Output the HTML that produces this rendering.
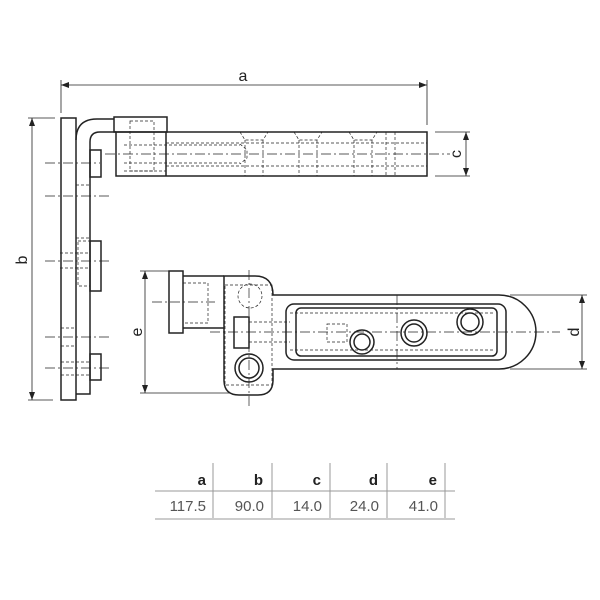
<!DOCTYPE html>
<html><head><style>body{margin:0;background:#fff}svg{display:block}</style></head><body>
<svg width="600" height="600" viewBox="0 0 600 600" xmlns="http://www.w3.org/2000/svg" font-family="Liberation Sans, sans-serif">
<defs><marker id="ar" markerWidth="8" markerHeight="6" refX="8" refY="3" orient="auto-start-reverse" markerUnits="userSpaceOnUse"><path d="M0,0 L8,3 L0,6z" fill="#222"/></marker></defs>
<g stroke="#222" fill="none">
<g stroke-width="0.8">
<line x1="61" y1="85" x2="427" y2="85" marker-start="url(#ar)" marker-end="url(#ar)"/>
<line x1="61" y1="80" x2="61" y2="113"/><line x1="427" y1="80" x2="427" y2="125"/>
<line x1="32" y1="118" x2="32" y2="400" marker-start="url(#ar)" marker-end="url(#ar)"/>
<line x1="28" y1="118" x2="55" y2="118"/><line x1="28" y1="400" x2="53" y2="400"/>
<line x1="466" y1="132" x2="466" y2="176" marker-start="url(#ar)" marker-end="url(#ar)"/>
<line x1="435" y1="132" x2="470" y2="132"/><line x1="435" y1="176" x2="470" y2="176"/>
<line x1="582" y1="295" x2="582" y2="369" marker-start="url(#ar)" marker-end="url(#ar)"/>
<line x1="510" y1="295" x2="587" y2="295"/><line x1="510" y1="369" x2="587" y2="369"/>
<line x1="145" y1="271" x2="145" y2="393" marker-start="url(#ar)" marker-end="url(#ar)"/>
<line x1="140" y1="271" x2="170" y2="271"/><line x1="140" y1="393" x2="230" y2="393"/>
</g>
<g stroke-width="0.7" stroke-dasharray="10,3,2,3">
<line x1="105" y1="154" x2="450" y2="154"/>
<line x1="45" y1="163" x2="100" y2="163"/>
<line x1="45" y1="196" x2="112" y2="196"/>
<line x1="45" y1="261" x2="112" y2="261"/>
<line x1="45" y1="337" x2="112" y2="337"/>
<line x1="45" y1="368" x2="112" y2="368"/>
<line x1="210" y1="332" x2="560" y2="332"/>
<line x1="152" y1="302" x2="215" y2="302"/>
<line x1="249" y1="270" x2="249" y2="408"/>
<line x1="397" y1="295" x2="397" y2="369"/>
</g>
<g stroke-width="0.7" stroke-dasharray="3,2">
<line x1="166" y1="143" x2="427" y2="143"/><line x1="166" y1="166" x2="427" y2="166"/>
<line x1="124" y1="145" x2="240" y2="145"/><line x1="124" y1="163" x2="240" y2="163"/>
<path d="M240,144 L247,150 L247,158 L240,164"/>
<path d="M240,132 L245,140 L263,140 L268,132 M294,132 L299,140 L317,140 L322,132 M349,132 L354,140 L372,140 L377,132"/>
<line x1="245" y1="140" x2="245" y2="176"/><line x1="263" y1="140" x2="263" y2="176"/>
<line x1="299" y1="140" x2="299" y2="176"/><line x1="317" y1="140" x2="317" y2="176"/>
<line x1="354" y1="140" x2="354" y2="176"/><line x1="372" y1="140" x2="372" y2="176"/>
<line x1="386" y1="132" x2="386" y2="176"/><line x1="395" y1="132" x2="395" y2="176"/>
<rect x="130" y="121" width="24" height="50"/>
<line x1="124" y1="171" x2="166" y2="171"/>
<line x1="76" y1="185" x2="90" y2="185"/><line x1="76" y1="238" x2="90" y2="238"/>
<rect x="78" y="241" width="12" height="45"/><line x1="60" y1="253" x2="90" y2="253"/><line x1="60" y1="268" x2="90" y2="268"/>
<line x1="61" y1="328" x2="76" y2="328"/><line x1="61" y1="346" x2="76" y2="346"/>
<line x1="61" y1="362" x2="90" y2="362"/><line x1="61" y1="375" x2="90" y2="375"/>
<rect x="183" y="283" width="25" height="40"/>
<rect x="225" y="285" width="47" height="100"/>
<circle cx="250" cy="296" r="12"/>
<line x1="249" y1="322" x2="290" y2="322"/><line x1="249" y1="342" x2="290" y2="342"/>
<line x1="290" y1="313" x2="495" y2="313"/><line x1="290" y1="350" x2="495" y2="350"/>
<rect x="327" y="324" width="20" height="18"/>
</g>
<g stroke-width="1.5">
<rect x="61" y="118" width="15" height="282"/>
<path d="M76,394 L90,394 L90,142 Q90,132 100,132 L116,132"/>
<path d="M76,140 Q76,119 97,119 L114,119"/>
<rect x="114" y="117" width="53" height="15"/>
<rect x="116" y="132" width="311" height="44"/>
<line x1="166" y1="132" x2="166" y2="176"/>
<rect x="90" y="150" width="11" height="27"/>
<rect x="90" y="241" width="11" height="50"/>
<rect x="90" y="354" width="11" height="26"/>
<rect x="169" y="271" width="14" height="62"/>
<path d="M183,276 L224,276 M183,328 L224,328"/>
<path d="M224,276 L255,276 Q273,276 273,295 L499,295 A37,37 0 0 1 499,369 L273,369 L273,380 Q273,395 258,395 L239,395 Q224,395 224,380 Z"/>
<rect x="286" y="304" width="220" height="56" rx="8"/>
<rect x="296" y="308" width="201" height="48" rx="5"/>
<rect x="234" y="317" width="15" height="31"/>
<circle cx="362" cy="342" r="12"/><circle cx="362" cy="342" r="8"/>
<circle cx="414" cy="333" r="13"/><circle cx="414" cy="333" r="9"/>
<circle cx="470" cy="322" r="13"/><circle cx="470" cy="322" r="9"/>
<circle cx="249" cy="368" r="14"/><circle cx="249" cy="368" r="10"/>
</g>
<g stroke="#999" stroke-width="1">
<line x1="155" y1="491" x2="455" y2="491"/><line x1="155" y1="519" x2="455" y2="519"/>
<line x1="213" y1="463" x2="213" y2="518"/><line x1="272" y1="463" x2="272" y2="518"/>
<line x1="330" y1="463" x2="330" y2="518"/><line x1="387" y1="463" x2="387" y2="518"/>
<line x1="445" y1="463" x2="445" y2="518"/>
</g>
</g>
<g fill="#222" font-size="16">
<text x="243" y="81" text-anchor="middle">a</text>
<text transform="translate(27,260) rotate(-90)" text-anchor="middle">b</text>
<text transform="translate(461,154) rotate(-90)" text-anchor="middle">c</text>
<text transform="translate(579,332) rotate(-90)" text-anchor="middle">d</text>
<text transform="translate(142,332) rotate(-90)" text-anchor="middle">e</text>
</g>
<g fill="#222" font-size="15" font-weight="bold" text-anchor="end">
<text x="206" y="485">a</text><text x="263" y="485">b</text><text x="321" y="485">c</text><text x="378" y="485">d</text><text x="437" y="485">e</text>
</g>
<g fill="#555" font-size="15" text-anchor="end">
<text x="206" y="511">117.5</text><text x="264" y="511">90.0</text><text x="322" y="511">14.0</text><text x="379" y="511">24.0</text><text x="438" y="511">41.0</text>
</g>
</svg>
</body></html>
